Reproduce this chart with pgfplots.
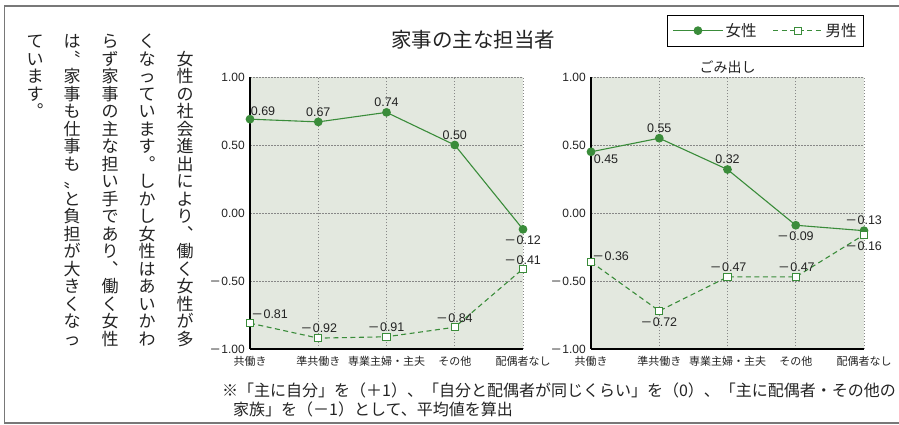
\documentclass[border=0pt]{standalone}
\usepackage{fontspec}
\usepackage{graphicx}
\usepackage{pgfplots}
\usepackage{pgfplotstable}
\pgfplotsset{compat=1.18}
\setmainfont{Liberation Sans}
\newfontfamily\jp{Noto Sans CJK JP}
\newfontfamily\numf{Liberation Sans}

\definecolor{gr}{RGB}{58,140,58}
\definecolor{bgc}{RGB}{227,232,223}
\definecolor{gridc}{RGB}{135,135,135}
\definecolor{frm}{RGB}{120,120,120}
\definecolor{txt}{RGB}{35,35,35}

% wide minus as in the printed chart
\protected\def\mn{\scalebox{1.4}[1]{−}\kern0.1em}

% one column of vertical Japanese text, one character per cell
\ExplSyntaxOn
\NewDocumentCommand\vcol{m}
  {
    \vbox:n
      {
        \offinterlineskip
        \tl_map_inline:nn {#1}
          {
            \hbox_to_wd:nn {1em}
              { \vrule height .88em depth .12em width 0pt \hss ##1 \hss }
            \skip_vertical:n {0.5pt}
          }
      }
  }
\ExplSyntaxOff

% dx, dy: offset of the value label from its point, in pt
% household chores: mean score by household type
\pgfplotstableread[col sep=comma]{
x,y,lab,dx,dy
0,0.69,0.69,13,8
1,0.67,0.67,0,10
2,0.74,0.74,0,10
3,0.50,0.50,0,10
4,-0.12,\mn0.12,0,-11
}\kajiF
\pgfplotstableread[col sep=comma]{
x,y,lab,dx,dy
0,-0.81,\mn0.81,20,9
1,-0.92,\mn0.92,1,10
2,-0.91,\mn0.91,0,10
3,-0.84,\mn0.84,0,9
4,-0.41,\mn0.41,0,9
}\kajiM
% garbage disposal
\pgfplotstableread[col sep=comma]{
x,y,lab,dx,dy
0,0.45,0.45,15,-7.5
1,0.55,0.55,0,10
2,0.32,0.32,0,10
3,-0.09,\mn0.09,0,-11
4,-0.13,\mn0.13,0,10.5
}\gomiF
\pgfplotstableread[col sep=comma]{
x,y,lab,dx,dy
0,-0.36,\mn0.36,20,6
1,-0.72,\mn0.72,0,-11
2,-0.47,\mn0.47,1,9.5
3,-0.47,\mn0.47,1,9.5
4,-0.16,\mn0.16,0,-11.5
}\gomiM

\pgfplotsset{
  lbl/.style={forget plot, only marks, mark=text, text mark={},
    nodes near coords, point meta=explicit symbolic,
    every node near coord/.append style={anchor=center,
      inner sep=0pt, text=txt, font=\numf\fontsize{12.5}{13}\selectfont}},
  fem/.style={gr, line width=1.1pt, mark=*, mark size=3.8pt, mark options={solid, fill=gr}},
  mal/.style={gr, line width=1.1pt, dash pattern=on 5pt off 3.5pt, mark=square*,
    mark size=3.6pt, mark options={solid, fill=white}},
  pane/.style={scale only axis, width=273pt, height=272pt,
    xmin=0, xmax=4, ymin=-1, ymax=1,
    axis x line*=bottom, axis y line*=left,
    axis line style={black, line width=1.3pt, -},
    axis background/.style={fill=bgc},
    grid=major, major grid style={gridc, line width=0.9pt, dash pattern=on 1.5pt off 1.5pt},
    xtick={0,...,4}, xticklabels={共働き,準共働き,専業主婦・主夫,その他,配偶者なし},
    ytick={-1,-0.5,0,0.5,1}, yticklabels={\mn1.00,\mn0.50,0.00,0.50,1.00},
    major tick length=0pt, tick style={draw=none},
    xticklabel style={anchor=north, inner sep=0pt, yshift=-7pt, text=txt,
      font=\jp\fontsize{11}{12}\selectfont},
    yticklabel style={anchor=east, inner sep=0pt, xshift=-5pt, text=txt,
      font=\numf\fontsize{12}{13}\selectfont},
    clip=false},
}
% label position: 1 unit = 68.25pt across, 136pt up
\def\lx{\thisrow{x}+\thisrow{dx}/68.25}
\def\ly{\thisrow{y}+\thisrow{dy}/136}

\begin{document}
\begin{tikzpicture}
\useasboundingbox (0pt,0pt) rectangle (899pt,-424pt);
\draw[frm, line width=1.5pt] (899pt,-6pt) -- (4.5pt,-6pt) -- (4.5pt,-423pt) -- (899pt,-423pt);

% vertical text, right to left (vertical forms of 、 and 。)
\begin{scope}[every node/.style={anchor=north, inner sep=0pt, text=txt, font=\jp\fontsize{17}{17}\selectfont}]
\node at (185pt,-50pt) {\vcol{女性の社会進出により︑働く女性が多}};
\node at (147pt,-32.5pt) {\vcol{くなっています︒しかし女性はあいかわ}};
\node at (110pt,-32.5pt) {\vcol{らず家事の主な担い手であり︑働く女性}};
\node at (72pt,-32.5pt) {\vcol{は〝家事も仕事も〟と負担が大きくなっ}};
\node at (35pt,-32.5pt) {\vcol{ています︒}};
\end{scope}

\node[text=txt, font=\jp\fontsize{20.5}{22}\selectfont] at (473pt,-40pt) {家事の主な担当者};

\begin{axis}[pane, at={(250pt,-349pt)}, anchor=south west]
  \addplot[fem] table[x=x, y=y] {\kajiF};
  \addplot[mal] table[x=x, y=y] {\kajiM};
  \addplot[lbl] table[x expr=\lx, y expr=\ly, meta=lab] {\kajiF};
  \addplot[lbl] table[x expr=\lx, y expr=\ly, meta=lab] {\kajiM};
\end{axis}

\begin{axis}[pane, at={(591pt,-349pt)}, anchor=south west,
  title={ごみ出し},
  title style={font=\jp\fontsize{14}{15}\selectfont, text=txt, at={(0.5,1)}, anchor=south, inner sep=0pt, yshift=-3pt},
  legend style={at={(1,1.228)}, anchor=north east, draw=black, line width=0.8pt, fill=white,
    font=\jp\fontsize{15.5}{16}\selectfont, text=txt, legend columns=2,
    /tikz/every even column/.append style={column sep=14pt},
    inner xsep=5pt, inner ysep=6pt, nodes={inner sep=2pt}},
  legend image code/.code={\draw[mark repeat=2, mark phase=2, #1] plot coordinates {(0pt,0pt) (25pt,0pt) (50pt,0pt)};},
]
  \addplot[fem] table[x=x, y=y] {\gomiF};
  \addlegendentry{女性}
  \addplot[mal] table[x=x, y=y] {\gomiM};
  \addlegendentry{男性}
  \addplot[lbl] table[x expr=\lx, y expr=\ly, meta=lab] {\gomiF};
  \addplot[lbl] table[x expr=\lx, y expr=\ly, meta=lab] {\gomiM};
\end{axis}

\node[anchor=west, inner sep=0pt, text=txt, font=\jp\fontsize{16}{17}\selectfont] at (222pt,-390pt)
  {※「主に自分」を（＋1）、「自分と配偶者が同じくらい」を（0）、「主に配偶者・その他の};
\node[anchor=west, inner sep=0pt, text=txt, font=\jp\fontsize{16}{17}\selectfont] at (233pt,-409pt)
  {家族」を（－1）として、平均値を算出};
\end{tikzpicture}
\end{document}
